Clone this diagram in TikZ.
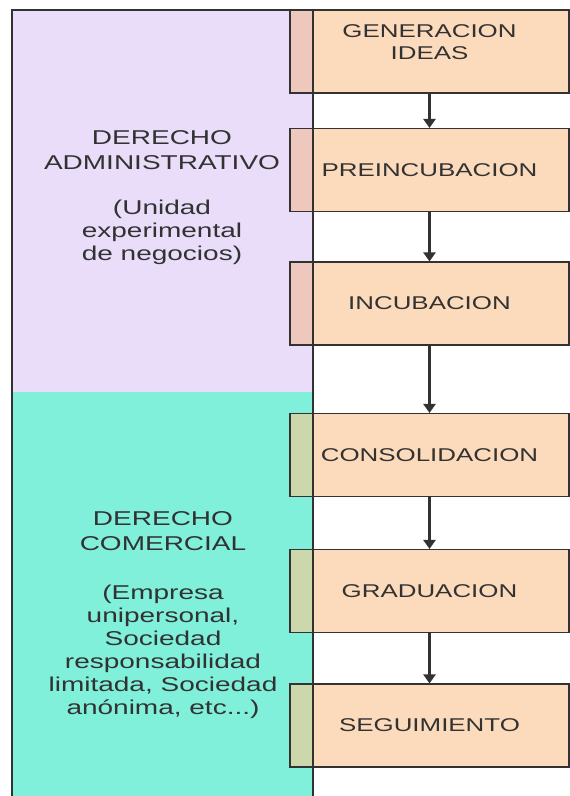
\documentclass[tikz,border=0pt]{standalone}
\usepackage{fontspec}
\setmainfont{Liberation Sans}[FakeStretch=1.4]
\usetikzlibrary{arrows.meta}
\definecolor{lav}{RGB}{233,221,250}
\definecolor{aqua}{RGB}{128,240,218}
\definecolor{peach}{RGB}{252,219,188}
\definecolor{pinkstrip}{RGB}{238,200,188}
\definecolor{greenstrip}{RGB}{204,216,172}
\definecolor{ink}{RGB}{50,50,50}
\tikzset{
  x=1pt, y=-1pt,
  stage/.style={draw=ink, line width=1.1pt, fill=peach, minimum width=279pt, minimum height=83pt,
    inner sep=0pt, text=ink, font=\fontsize{18.5}{22}\selectfont, align=center,
    path picture={\fill[#1] (path picture bounding box.south west) rectangle ([xshift=23pt]path picture bounding box.north west);
      \draw[ink, line width=1.1pt] ([xshift=23pt]path picture bounding box.south west) -- ([xshift=23pt]path picture bounding box.north west);}},
  flow/.style={draw=ink, line width=3.2pt, -{Triangle[width=12pt,length=9pt]}},
  paneltext/.style={text=ink, align=center, font=\fontsize{20}{25}\selectfont},
  subtext/.style={text=ink, align=center, font=\fontsize{20}{23}\selectfont}
}
\begin{document}
\begin{tikzpicture}
\useasboundingbox (0,0) rectangle (570,796);
\fill[white] (0,0) rectangle (570,796);
% panels
\fill[lav] (12,10) rectangle (313,392);
\fill[aqua] (12,392) rectangle (313,796);
\draw[ink, line width=1.2pt] (12,796) -- (12,10) -- (313,10);
\draw[ink, line width=2.4pt] (313,10) -- (313,796);
% panel texts
\node[paneltext] (t1) at (162,150) {DERECHO\\ADMINISTRATIVO};
\node[subtext] (s1) at (162,232) {(Unidad\\experimental\\de negocios)};
\node[paneltext] (t2) at (163,531) {DERECHO\\COMERCIAL};
\node[subtext] (s2) at (163,652) {(Empresa\\unipersonal,\\Sociedad\\responsabilidad\\limitada, Sociedad\\anónima, etc...)};
% stages
\node[stage=pinkstrip] (b1) at (429.5,51.5) {};
\node[text=ink, align=center, font=\fontsize{18.5}{22}\selectfont] (b1t) at (429.5,42) {GENERACION\\IDEAS};
\node[stage=pinkstrip] (b2) at (429.5,170) {PREINCUBACION};
\node[stage=pinkstrip] (b3) at (429.5,303.5) {INCUBACION};
\node[stage=greenstrip] (b4) at (429.5,455) {CONSOLIDACION};
\node[stage=greenstrip] (b5) at (429.5,591) {GRADUACION};
\node[stage=greenstrip] (b6) at (429.5,725.5) {SEGUIMIENTO};
% arrows
\draw[flow] (b1.south) -- (b2.north);
\draw[flow] (b2.south) -- (b3.north);
\draw[flow] (b3.south) -- (b4.north);
\draw[flow] (b4.south) -- (b5.north);
\draw[flow] (b5.south) -- (b6.north);
\end{tikzpicture}
\end{document}
